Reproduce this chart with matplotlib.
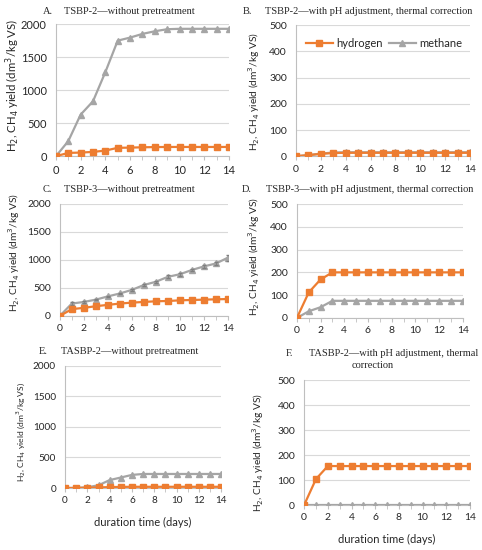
import matplotlib
matplotlib.use('Agg')
import matplotlib.pyplot as plt
import numpy as np

days = list(range(15))

# A. TSBP-2 without pretreatment
a_h2 = [0, 50, 55, 65, 85, 127, 130, 135, 138, 140, 140, 140, 140, 140, 140]
a_ch4 = [0, 228, 630, 832, 1274, 1751, 1797, 1853, 1893, 1924, 1930, 1930, 1930, 1930, 1930]
# B. TSBP-2 with pH adjustment
b_h2 = [0, 4, 9, 12, 13, 13, 13, 13, 13, 13, 13, 13, 13, 13, 13]
b_ch4 = [0, 4, 10, 14, 15, 15, 15, 15, 15, 15, 15, 15, 15, 15, 15]
# C. TSBP-3 without pretreatment
c_h2 = [0, 122, 145, 174, 198, 221, 238, 250, 262, 267, 279, 285, 291, 297, 302]
c_ch4 = [0, 221, 250, 291, 349, 401, 465, 552, 610, 698, 744, 820, 884, 936, 1040]
c_ch4_err = [0, 20, 15, 15, 15, 15, 15, 20, 20, 25, 25, 25, 30, 30, 55]
# D. TSBP-3 with pH adjustment
d_h2 = [0, 112, 169, 200, 200, 200, 200, 200, 200, 200, 200, 200, 200, 200, 200]
d_ch4 = [0, 29, 47, 75, 75, 75, 75, 75, 75, 75, 75, 75, 75, 75, 75]
# E. TASBP-2 without pretreatment
e_h2 = [0, 0, 5, 10, 15, 18, 20, 20, 20, 20, 20, 20, 20, 20, 20]
e_ch4 = [0, 3, 12, 45, 130, 172, 215, 230, 230, 230, 230, 230, 230, 230, 230]
# F. TASBP-2 with pH adjustment
f_h2 = [0, 104, 156, 156, 156, 156, 156, 156, 156, 156, 156, 156, 156, 156, 156]
f_ch4 = [0] * 15

ORANGE = '#ED7D31'
GRAY = '#A5A5A5'
TXT = '#262626'
SANS = ['Lato', 'DejaVu Sans']
SERIF = 'Liberation Serif'
W, H = 482, 550

fig = plt.figure(figsize=(4.82, 5.5), dpi=100)

panels = [
    # rect, h2, ch4, err, ymax, step, letter, title, letter pos, title pos,
    # tick size, ylabel size, ylabel centre (px), xlabel pad
    ([0.116, 0.716, 0.359, 0.240], a_h2, a_ch4, None, 2000, 500, 'A.', 'TSBP-2\u2014without pretreatment',
     (43, 11), (64, 11), 8, 8.2, (13, 85), None),
    ([0.614, 0.716, 0.361, 0.238], b_h2, b_ch4, None, 500, 100, 'B.', 'TSBP-2\u2014with pH adjustment, thermal correction',
     (243, 11), (265, 11), 7.5, 7.3, (254, 92), None),
    ([0.124, 0.4255, 0.349, 0.204], c_h2, c_ch4, c_ch4_err, 2000, 500, 'C.', 'TSBP-3\u2014without pretreatment',
     (43, 190), (64, 190), 7.5, 7.3, (14, 253), None),
    ([0.616, 0.422, 0.344, 0.207], d_h2, d_ch4, None, 500, 100, 'D.', 'TSBP-3\u2014with pH adjustment, thermal correction',
     (242, 190), (266, 190), 7.5, 7.3, (254, 257), None),
    ([0.135, 0.1127, 0.324, 0.222], e_h2, e_ch4, None, 2000, 500, 'E.', 'TASBP-2\u2014without pretreatment',
     (39, 352), (61, 352), 7.2, 6.1, (21, 432), 8),
    ([0.631, 0.0818, 0.344, 0.227], f_h2, f_ch4, None, 500, 100, 'F.', 'TASBP-2\u2014with pH adjustment, thermal',
     (286, 353), (309, 353), 7.5, 7.3, (258, 453), 8),
]

for (rect, h2, ch4, err, ymax, step, letter, title, lpos, tpos,
     tsize, ysize, ypos, xpad) in panels:
    ax = fig.add_axes(rect)
    lh, = ax.plot(days, h2, color=ORANGE, marker='s', markersize=4, lw=1.6, label='hydrogen', zorder=4)
    lm, = ax.plot(days, ch4, color=GRAY, marker='^', markersize=4, lw=1.6, label='methane', zorder=3)
    if err is not None:
        ax.errorbar(days, ch4, yerr=err, fmt='none', ecolor='#7F7F7F', elinewidth=0.6, capsize=1.5, zorder=3)
    ax.set_xlim(0, 14)
    ax.set_ylim(0, ymax)
    ax.set_yticks(np.arange(0, ymax + 1, step))
    ax.set_xticks(range(0, 15, 2))
    ax.set_xticks(range(15), minor=True)
    ax.tick_params(axis='x', which='both', direction='out', length=3, color='#BFBFBF',
                   labelsize=tsize, labelcolor=TXT, pad=3)
    ax.tick_params(axis='y', length=0, labelsize=tsize, labelcolor=TXT, pad=6.5)
    for lab in ax.get_xticklabels() + ax.get_yticklabels():
        lab.set_family(SANS)
    ax.grid(axis='y', color='#D9D9D9', lw=0.8)
    ax.set_axisbelow(True)
    for s in ['top', 'right']:
        ax.spines[s].set_visible(False)
    for s in ['left', 'bottom']:
        ax.spines[s].set_color('#BFBFBF')
        ax.spines[s].set_linewidth(0.8)
    ax.set_ylabel(r'H$_2$, CH$_4$ yield (dm$^3$/kg VS)', fontsize=ysize, family=SANS, color=TXT,
                  va='center', ha='center')
    ax.yaxis.set_label_coords(ypos[0] / W, 1 - ypos[1] / H, transform=fig.transFigure)
    if xpad is not None:
        ax.set_xlabel('duration time (days)', fontsize=8, family=SANS, color=TXT, labelpad=xpad)
    fig.text(lpos[0] / W, 1 - lpos[1] / H, letter, fontsize=7.5, family=SERIF, color=TXT, va='center')
    fig.text(tpos[0] / W, 1 - tpos[1] / H, title, fontsize=7.5, family=SERIF, color=TXT, va='center')
    if letter == 'B.':
        ax.legend(handles=[lh, lm], ncol=2, loc='upper left', bbox_to_anchor=(0.0, 0.98),
                  frameon=False, prop={'family': SANS, 'size': 8}, labelcolor=TXT,
                  handlelength=2.4, columnspacing=0.6, handletextpad=0.3)

fig.text(373 / W, 1 - 366 / H, 'correction', fontsize=7.5, family=SERIF, color=TXT, va='center', ha='center')

fig.savefig('out.png', dpi=100)
